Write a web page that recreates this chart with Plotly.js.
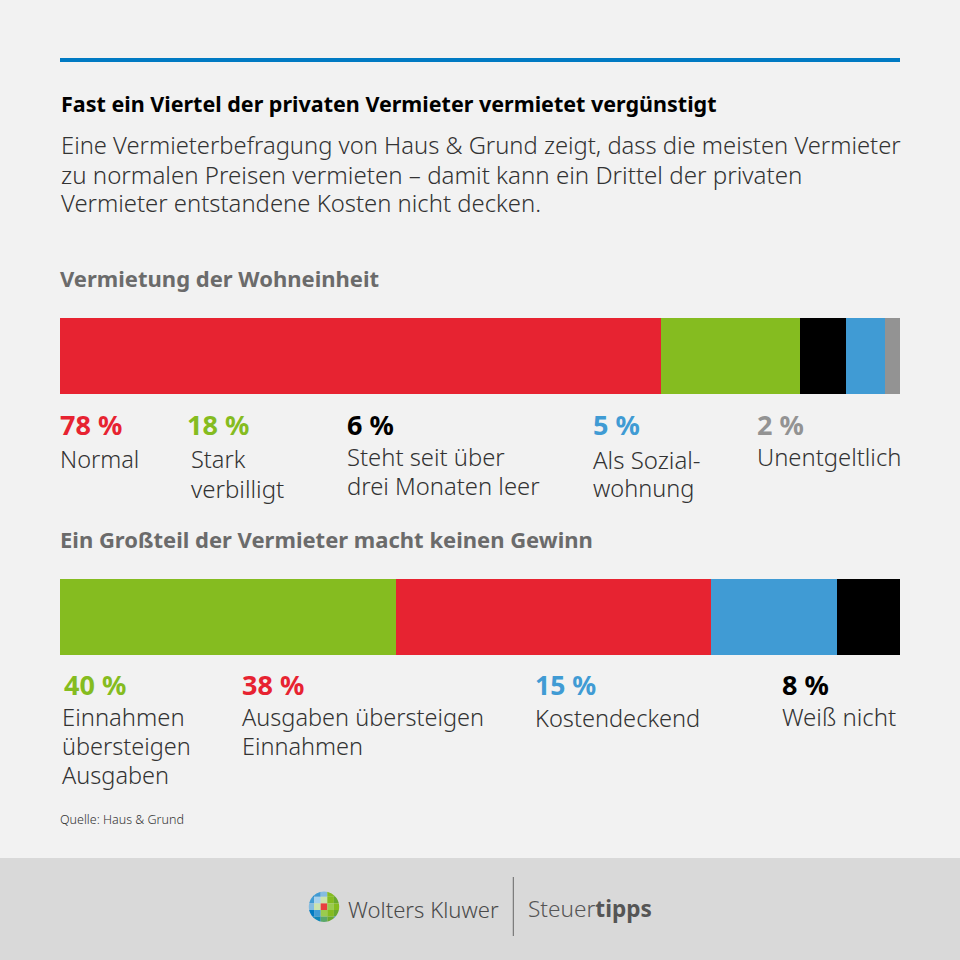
<!DOCTYPE html>
<html><head><meta charset="utf-8">
<script src="https://cdn.plot.ly/plotly-3.0.1.min.js"></script>
<style>html,body{margin:0;padding:0;background:#f2f2f2}</style></head>
<body><div id="chart" style="width:960px;height:960px"></div>
<script>
// DATA
const rentCategories = ["Normal","Stark verbilligt","Steht seit über drei Monaten leer","Als Sozialwohnung","Unentgeltlich"];
const rentValues = [78,18,6,5,2];
const rentColors = ["#e72331","#85bc20","#000000","#409bd4","#939393"];
const profitCategories = ["Einnahmen übersteigen Ausgaben","Ausgaben übersteigen Einnahmen","Kostendeckend","Weiß nicht"];
const profitValues = [40,37.5,15,7.5];
const profitColors = ["#85bc20","#e72331","#409bd4","#000000"];
const titleText = "Fast ein Viertel der privaten Vermieter vermietet vergünstigt";
const bodyLines = ["Eine Vermieterbefragung von Haus & Grund zeigt, dass die meisten Vermieter","zu normalen Preisen vermieten – damit kann ein Drittel der privaten","Vermieter entstandene Kosten nicht decken."];
const section1 = "Vermietung der Wohneinheit";
const section2 = "Ein Großteil der Vermieter macht keinen Gewinn";
const source = "Quelle: Haus & Grund";

const sum = a => a.reduce((p,c)=>p+c,0);
const pct = v => Math.round(v)+" %";
const traces = [];
rentValues.forEach((v,i)=>traces.push({type:'bar',orientation:'h',x:[v],y:['a'],name:rentCategories[i],marker:{color:rentColors[i],line:{width:0}},xaxis:'x',yaxis:'y',hoverinfo:'name+x'}));
profitValues.forEach((v,i)=>traces.push({type:'bar',orientation:'h',x:[v],y:['b'],name:profitCategories[i],marker:{color:profitColors[i],line:{width:0}},xaxis:'x2',yaxis:'y2',hoverinfo:'name+x'}));

const FONT = '"Noto Sans", sans-serif';
const X = p => p/960, Y = p => 1-p/960;
const ann = (t,x,y,size,color,weight,fam) => ({text:t,xref:'paper',yref:'paper',x:X(x),y:Y(y),xanchor:'left',yanchor:'middle',showarrow:false,borderpad:0,borderwidth:0,align:'left',
  font:{family:fam||FONT,size:size,color:color,weight:weight||300}});
const DARK = "#333333", GREY = "#6b6b6b", L = 23.5, V = 27;
const annotations = [
  ann(titleText,61,103.5,21.5,"#000",700),
  ann(bodyLines[0],61,145,23.75,DARK),
  ann(bodyLines[1],61,174,24.1,DARK),
  ann(bodyLines[2],61,203,23.85,DARK),
  ann(section1,60,278.5,22,GREY,700),
  ann(section2,60,539,22,GREY,700),
  ann(pct(rentValues[0]),60,425,V,rentColors[0],700),
  ann("Normal",60,459,L,DARK),
  ann(pct(rentValues[1]),187,425,V,rentColors[1],700),
  ann("Stark",191,459,L,DARK),
  ann("verbilligt",191,488,24,DARK),
  ann(pct(rentValues[2]),347,425,V,rentColors[2],700),
  ann("Steht seit über",347,457,23.8,DARK),
  ann("drei Monaten leer",347,486,23.8,DARK),
  ann(pct(rentValues[3]),593,425,V,rentColors[3],700),
  ann("Als Sozial-",593,459,24,DARK),
  ann("wohnung",593,488,L,DARK),
  ann(pct(rentValues[4]),757,425,V,rentColors[4],700),
  ann("Unentgeltlich",757,457,23.8,DARK),
  ann(pct(profitValues[0]),64,684.5,V,profitColors[0],700),
  ann("Einnahmen",62,717,23.8,DARK),
  ann("übersteigen",62,746,L,DARK),
  ann("Ausgaben",62,775,L,DARK),
  ann(pct(profitValues[1]),242,684.5,V,profitColors[1],700),
  ann("Ausgaben übersteigen",242,717,L,DARK),
  ann("Einnahmen",242,746,L,DARK),
  ann(pct(profitValues[2]),535,684.5,26.5,profitColors[2],700),
  ann("Kostendeckend",535,718,23.6,DARK),
  ann(pct(profitValues[3]),782,684.5,V,profitColors[3],700),
  ann("Weiß nicht",782,716,24,DARK),
  ann(source,60,819,12.5,"#333",300),
  ann("Wolters Kluwer",348,908.5,22.1,"#4a4a4a",300),
  ann("Steuer<b>tipps</b>",528,908.5,22.6,"#555",300)
];
const rect = (x0,y0,x1,y1,color,layer) => ({type:'rect',xref:'paper',yref:'paper',x0:X(x0),x1:X(x1),y0:Y(y0),y1:Y(y1),fillcolor:color,line:{width:0},layer:layer||'below'});
const shapes = [
  rect(60,58,900,62,"#007ac3"),
  rect(0,858,960,960,"#d9d9d9"),
  rect(512.8,877,513.8,936,"#666")
];
// Logo: grid of tiles, masked to a disc
const logo = [
 ["#007ac3","#409bd4","#85bce0","#85bc20","#6aa92e"],
 ["#409bd4","#a6d1ec","#cbe3ad","#85bc20","#6aa92e"],
 ["#85bce0","#cbe3ad","#e8403f","#9acb4e","#85bc20"],
 ["#007ac3","#409bd4","#9acb4e","#85bc20","#6aa92e"],
 ["#007ac3","#0f86b8","#5aa86a","#6aa92e","#409bd4"]
];
const cx=324, cy=906.7, r=15.2, cell=6.6;
logo.forEach((row,j)=>row.forEach((c,i)=>{
  const x0=cx-cell*2.5+i*cell, y0=cy-cell*2.5+j*cell;
  shapes.push(rect(x0,y0,x0+cell,y0+cell,c,'above'));
}));
const rr=18;
shapes.push({type:'path',xref:'paper',yref:'paper',fillrule:'evenodd',fillcolor:'#d9d9d9',line:{width:0},layer:'above',
 path:`M${X(cx-rr)},${Y(cy-rr)}L${X(cx+rr)},${Y(cy-rr)}L${X(cx+rr)},${Y(cy+rr)}L${X(cx-rr)},${Y(cy+rr)}Z `+
 (()=>{let s='';const n=48;for(let k=0;k<n;k++){const a=2*Math.PI*k/n;s+=(k?'L':'M')+X(cx+r*Math.cos(a))+','+Y(cy+r*Math.sin(a));}return s+'Z';})()});

const hidden = {visible:false,fixedrange:true};
Plotly.newPlot('chart',traces,{
  width:960,height:960,margin:{l:0,r:0,t:0,b:0},autosize:false,
  paper_bgcolor:'#f2f2f2',plot_bgcolor:'rgba(0,0,0,0)',showlegend:false,barmode:'stack',bargap:0,
  xaxis:Object.assign({},hidden,{domain:[X(60),X(900)],range:[0,sum(rentValues)],anchor:'y'}),
  yaxis:Object.assign({},hidden,{domain:[Y(394),Y(318)],anchor:'x'}),
  xaxis2:Object.assign({},hidden,{domain:[X(60),X(900)],range:[0,sum(profitValues)],anchor:'y2'}),
  yaxis2:Object.assign({},hidden,{domain:[Y(655),Y(579)],anchor:'x2'}),
  annotations,shapes
},{displayModeBar:false,staticPlot:true});
</script></body></html>
